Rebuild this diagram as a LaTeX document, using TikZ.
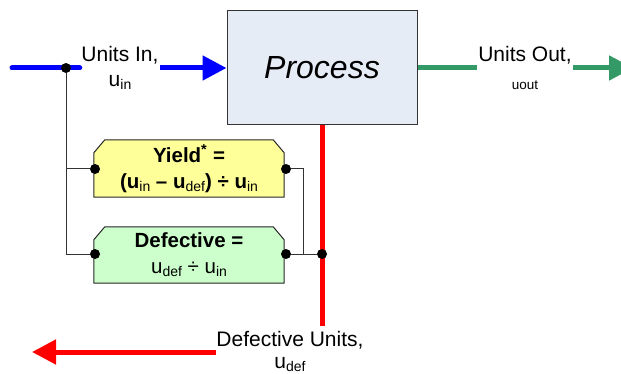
\documentclass[tikz,border=0pt]{standalone}
\usepackage{fontspec}
\setmainfont{Liberation Sans}
\usetikzlibrary{arrows.meta,backgrounds}

\definecolor{flowblue}{RGB}{0,0,255}
\definecolor{flowgreen}{RGB}{51,153,102}
\definecolor{flowred}{RGB}{255,0,0}
\definecolor{procfill}{RGB}{230,236,246}
\definecolor{yieldfill}{RGB}{255,255,153}
\definecolor{defectfill}{RGB}{204,255,204}

% lowered small text used as a subscript (always regular weight)
\newcommand\lowsub[1]{\raisebox{-3pt}{\fontsize{14}{14}\selectfont\mdseries #1}}
\newcommand\fsz[1]{\fontsize{#1}{#1}\selectfont}

\begin{document}
\begin{tikzpicture}[x=1pt,y=-1pt,
  flow/.style={line width=5pt},
  bigtip/.style={-{Triangle[length=24pt,width=24pt]}},
  label/.style={inner xsep=1.5pt,inner ysep=2pt,anchor=base,font=\fsz{21}},
  sublabel/.style={inner sep=1pt,anchor=base,font=\fsz{21}},
  dot/.style={circle,fill=black,inner sep=0pt,minimum size=10pt},
  link/.style={draw=black!80,line width=1pt},
  calcbox/.style={minimum width=190pt,inner sep=0pt,align=center,
                  font=\fontsize{20.5}{26}\selectfont},
  boxedge/.style={draw=black!85,line width=1pt}
]
\useasboundingbox (0,0) rectangle (621,374);
\clip (0,0) rectangle (621,374);

% main process
\node[draw=black!80,line width=1pt,fill=procfill,minimum width=190pt,
      minimum height=114pt,inner sep=0pt,font=\fsz{32}\itshape]
      (proc) at (322,68) {Process};

% flow labels
\node[label] (inLbl) at (120,62) {Units In,};
\node[sublabel] (inSub) at (120,87) {u\lowsub{in}};
\node[label] (outLbl) at (525,62) {Units Out,};
\node[sublabel,font=\fsz{13.5}] (outSub) at (525,90) {uout};
\node[label,inner xsep=0.5pt,inner ysep=4.5pt] (defLbl) at (290,346) {Defective Units,};
\node[sublabel] (defSub) at (290,368) {u\lowsub{def}};

% flow end points
\coordinate (inStart) at (12,68);
\coordinate (outEnd) at (633,68);
\coordinate (defEnd) at (32,352);

% units in
\draw[flow,flowblue,line cap=round] (inStart) -- (inLbl.west |- proc.west);
\draw[flow,flowblue,bigtip] (inLbl.east |- proc.west) -- (proc.west);
% units out
\draw[flow,flowgreen] (proc.east) -- (outLbl.west |- proc.east);
\draw[flow,flowgreen,bigtip] (outLbl.east |- proc.east) -- (outEnd);
% defective units
\draw[flow,flowred] (proc.south) -- (proc.south |- defLbl.north);
\draw[flow,flowred,bigtip] (defLbl.west |- defEnd) -- (defEnd);

% calculation boxes
\node[calcbox,minimum height=57pt] (yield) at (189,168.5)
  {\bfseries Yield\textsuperscript{*} =\\
   \bfseries (u\lowsub{in} – u\lowsub{def}) ÷ u\lowsub{in}};
\node[calcbox,minimum height=56pt] (defect) at (189,255)
  {\bfseries Defective =\\
   u\lowsub{def} ÷ u\lowsub{in}};

\begin{scope}[on background layer]
  \foreach \b/\c in {yield/yieldfill,defect/defectfill}{
    \path[boxedge,fill=\c]
      (\b.south west) -- ([yshift=-13pt]\b.north west)
      -- ([xshift=11pt]\b.north west) -- ([xshift=-11pt]\b.north east)
      -- ([yshift=-13pt]\b.north east) -- (\b.south east) -- cycle;
  }
\end{scope}

% connection dots
\node[dot] (inDot) at (66,68) {};
\node[dot] (yL) at (95,169) {};
\node[dot] (yR) at (286,169) {};
\node[dot] (dL) at (95,254) {};
\node[dot] (dR) at (286,254) {};
\node[dot] (redDot) at (322,254) {};
\coordinate (jn) at (303,254);

% measurement links
\draw[link] (inDot) |- (yL);
\draw[link] (inDot) |- (dL);
\draw[link] (yR) -| (jn) -- (redDot);
\draw[link] (dR) -- (redDot);
\end{tikzpicture}
\end{document}
